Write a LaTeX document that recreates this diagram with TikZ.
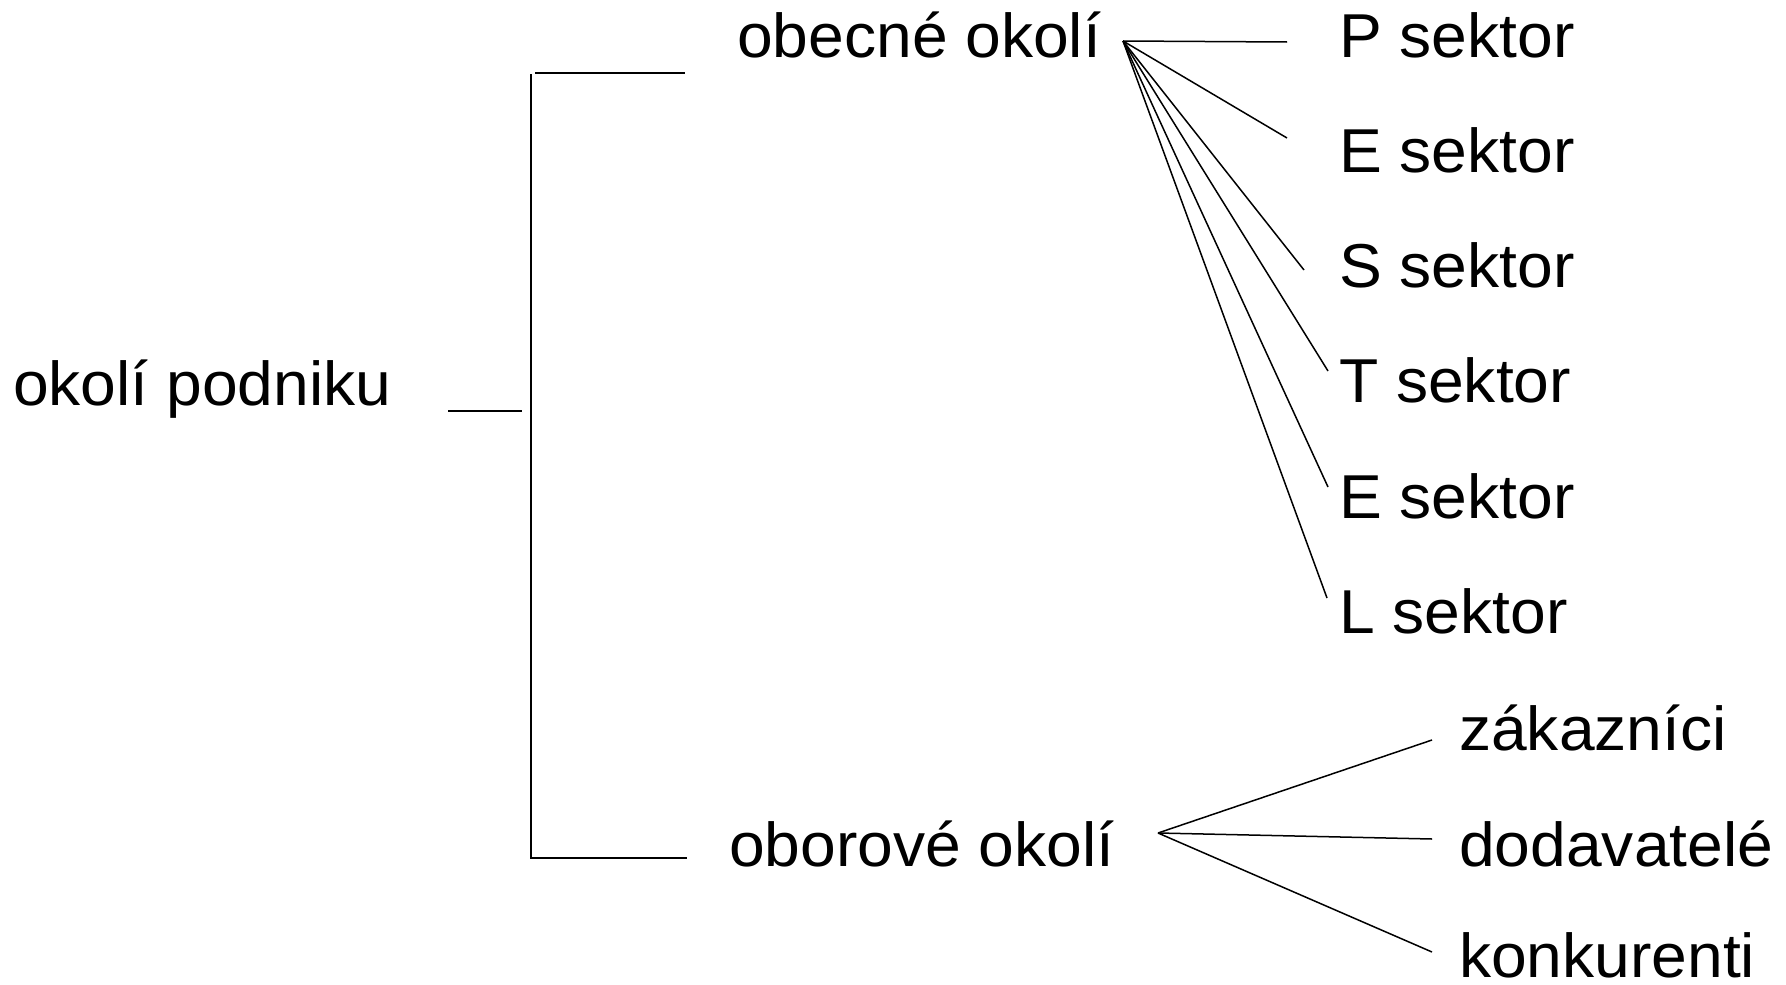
\documentclass[tikz,border=0pt]{standalone}
\usepackage{fontspec}
\setmainfont[FakeStretch=1.035]{Liberation Sans}
\begin{document}
\begin{tikzpicture}[x=1pt,y=-1pt,
  lbl/.style={anchor=base west,inner sep=0pt,font=\fontsize{62}{70}\selectfont},
  link/.style={line width=1.5pt,black}]
\useasboundingbox (0,0) rectangle (1786,985);
% labels
\node[lbl] (root) at (13,405) {okolí podniku};
\node[lbl] (gen) at (737,57) {obecné okolí};
\node[lbl] (ind) at (729,866) {oborové okolí};
\node[lbl] (sP) at (1339,57) {P sektor};
\node[lbl] (sE) at (1339,172) {E sektor};
\node[lbl] (sS) at (1339,287) {S sektor};
\node[lbl] (sT) at (1339,402) {T sektor};
\node[lbl] (sE2) at (1339,518) {E sektor};
\node[lbl] (sL) at (1339,633) {L sektor};
\node[lbl] (cust) at (1459,750) {zákazníci};
\node[lbl] (supp) at (1459,866) {dodavatelé};
\node[lbl] (comp) at (1459,977) {konkurenti};
% bracket
\coordinate (rootA) at (448,411);
\coordinate (rootB) at (522,411);
\coordinate (brTop) at (531,74);
\coordinate (brBot) at (531,858);
\coordinate (genA) at (535,73);
\coordinate (genB) at (685,73);
\coordinate (indB) at (687,858);
\draw[link] (rootA) -- (rootB);
\draw[link] (genA) -- (genB);
\draw[link] (brTop) -- (brBot) -- (indB);
% fan of the general environment
\coordinate (gf) at (1123,41);
\coordinate (eP) at (1287,42);
\coordinate (eE) at (1287,138);
\coordinate (eS) at (1304,270);
\coordinate (eT) at (1328,371);
\coordinate (eE2) at (1328,487);
\coordinate (eL) at (1327,598);
\foreach \e in {eP,eE,eS,eT,eE2,eL} \draw[link] (gf) -- (\e);
% fan of the industry environment
\coordinate (inf) at (1158,833);
\coordinate (eCust) at (1432,740);
\coordinate (eSupp) at (1432,839);
\coordinate (eComp) at (1432,952);
\foreach \e in {eCust,eSupp,eComp} \draw[link] (inf) -- (\e);
\end{tikzpicture}
\end{document}
